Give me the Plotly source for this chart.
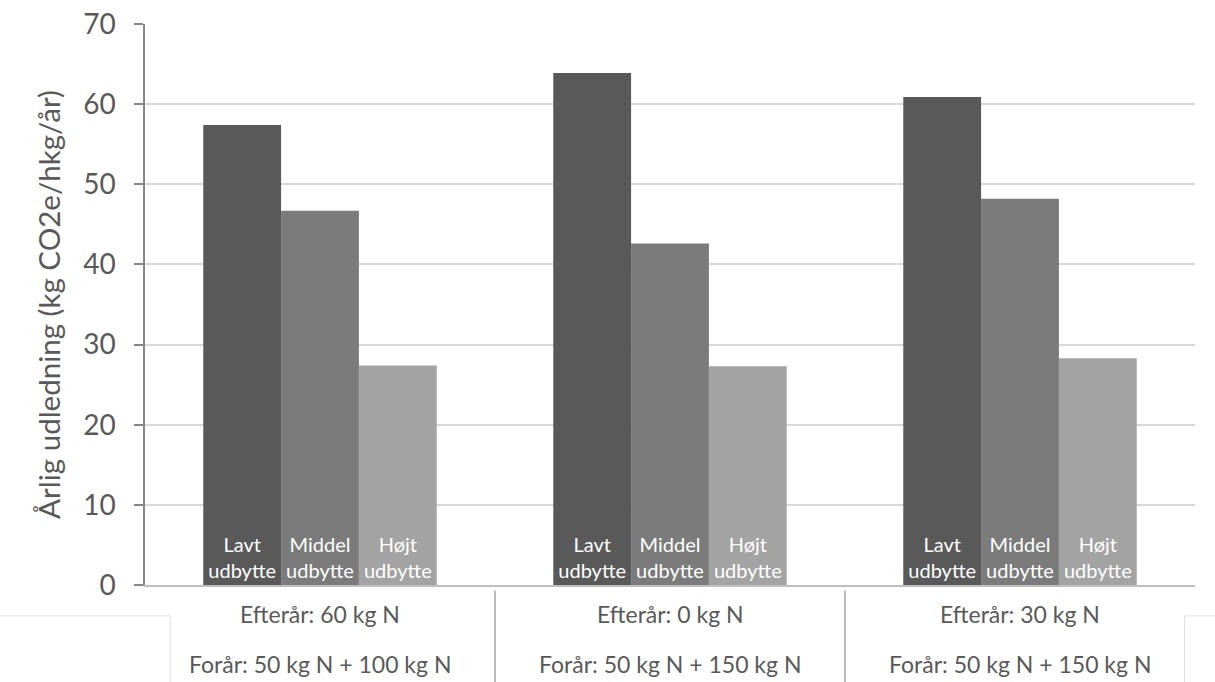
import plotly.graph_objects as go

# Fertiliser strategies (autumn / spring N) and yield levels
categories = ["Efterår: 60 kg N", "Efterår: 0 kg N", "Efterår: 30 kg N"]
spring_n = ["Forår: 50 kg N + 100 kg N", "Forår: 50 kg N + 150 kg N", "Forår: 50 kg N + 150 kg N"]
yield_levels = ["Lavt<br>udbytte", "Middel<br>udbytte", "Højt<br>udbytte"]

lavt = [57.4, 63.9, 60.9]
middel = [46.7, 42.6, 48.2]
hoejt = [27.4, 27.3, 28.3]

series = [lavt, middel, hoejt]
colors = ["#595959", "#7b7b7b", "#a3a3a3"]

font_family = "Lato, 'Open Sans', sans-serif"
text_color = "#595959"

fig = go.Figure()
for label, values, color in zip(yield_levels, series, colors):
    fig.add_trace(go.Bar(
        x=categories,
        y=values,
        name=label,
        marker=dict(color=color, line=dict(width=0)),
        text=[label] * len(values),
        texttemplate="%{text}",
        textposition="inside",
        insidetextanchor="start",
        textangle=0,
        insidetextfont=dict(color="white", size=20, family=font_family),
        hoverinfo="y",
    ))

fig.update_layout(
    barmode="group",
    bargap=0.333,
    bargroupgap=0,
    width=1215,
    height=682,
    margin=dict(l=145, r=20, t=24, b=97, autoexpand=False),
    plot_bgcolor="white",
    paper_bgcolor="white",
    showlegend=False,
    font=dict(family=font_family, color=text_color),
    uniformtext=dict(mode="show", minsize=10),
    xaxis=dict(
        showticklabels=False,
        showline=True,
        linecolor="#bfbfbf",
        linewidth=1.5,
        ticks="",
        showgrid=False,
    ),
    yaxis=dict(
        range=[0, 70],
        dtick=10,
        tick0=0,
        showgrid=True,
        gridcolor="#d9d9d9",
        gridwidth=1.5,
        zeroline=False,
        showline=True,
        linecolor="#868686",
        linewidth=1.5,
        ticks="outside",
        ticklen=9,
        tickcolor="#868686",
        tickwidth=1.5,
        tickfont=dict(size=28, color=text_color),
        ticklabelstandoff=13,
        title=dict(
            text="Årlig udledning (kg CO2e/hkg/år)",
            font=dict(size=29.5, color=text_color),
            standoff=14,
        ),
    ),
)

# Two-line category labels under each group
for cat, spring in zip(categories, spring_n):
    fig.add_annotation(x=cat, xref="x", y=-0.052, yref="paper",
                       text=cat, showarrow=False, yanchor="middle",
                       font=dict(size=23, color=text_color))
    fig.add_annotation(x=cat, xref="x", y=-0.141, yref="paper",
                       text=spring, showarrow=False, yanchor="middle",
                       font=dict(size=23, color=text_color))

# Separators between the fertiliser groups below the axis
for xpos in [0.5, 1.5]:
    fig.add_shape(
        type="line", xref="x", yref="paper",
        x0=xpos, x1=xpos, y0=-0.01, y1=-0.175,
        line=dict(color="#a6a6a6", width=1.5),
    )

# Thin frame corners at the lower edges
fig.add_shape(type="line", xref="paper", yref="paper",
              x0=-0.26, x1=0.024, y0=-0.055, y1=-0.055,
              line=dict(color="#e0e0e0", width=1))
fig.add_shape(type="line", xref="paper", yref="paper",
              x0=0.024, x1=0.024, y0=-0.055, y1=-0.175,
              line=dict(color="#e0e0e0", width=1))
fig.add_shape(type="line", xref="paper", yref="paper",
              x0=0.99, x1=1.02, y0=-0.055, y1=-0.055,
              line=dict(color="#e0e0e0", width=1))
fig.add_shape(type="line", xref="paper", yref="paper",
              x0=0.99, x1=0.99, y0=-0.055, y1=-0.175,
              line=dict(color="#e0e0e0", width=1))

fig.write_html("out.html")
